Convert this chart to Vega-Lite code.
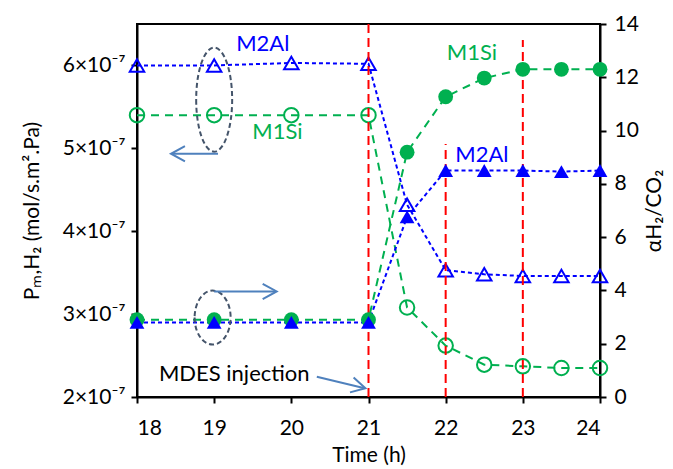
{
  "$schema": "https://vega.github.io/schema/vega-lite/v6.json",
  "autosize": {"type": "none"},
  "padding": {"left": 137, "top": 24, "right": 73, "bottom": 72},
  "width": 463,
  "height": 373,
  "background": "white",
  "config": {
    "font": "Lato",
    "view": {"stroke": "black", "strokeWidth": 2},
    "axis": {"grid": false, "domainColor": "black", "domainWidth": 2, "tickColor": "black", "tickWidth": 2, "tickSize": 6, "labelColor": "black", "titleColor": "black", "labelFontSize": 21, "titleFontSize": 21, "labelFont": "Lato", "titleFont": "Lato", "titleFontWeight": "normal"}
  },
  "datasets": {
    "perm": [
      {"time": 18, "membrane": "M2Al", "P": 6.00e-7},
      {"time": 19, "membrane": "M2Al", "P": 6.00e-7},
      {"time": 20, "membrane": "M2Al", "P": 6.03e-7},
      {"time": 21, "membrane": "M2Al", "P": 6.02e-7},
      {"time": 21.5, "membrane": "M2Al", "P": 4.32e-7},
      {"time": 22, "membrane": "M2Al", "P": 3.53e-7},
      {"time": 22.5, "membrane": "M2Al", "P": 3.48e-7},
      {"time": 23, "membrane": "M2Al", "P": 3.46e-7},
      {"time": 23.5, "membrane": "M2Al", "P": 3.46e-7},
      {"time": 24, "membrane": "M2Al", "P": 3.46e-7},
      {"time": 18, "membrane": "M1Si", "P": 5.40e-7},
      {"time": 19, "membrane": "M1Si", "P": 5.40e-7},
      {"time": 20, "membrane": "M1Si", "P": 5.40e-7},
      {"time": 21, "membrane": "M1Si", "P": 5.40e-7},
      {"time": 21.5, "membrane": "M1Si", "P": 3.08e-7},
      {"time": 22, "membrane": "M1Si", "P": 2.62e-7},
      {"time": 22.5, "membrane": "M1Si", "P": 2.39e-7},
      {"time": 23, "membrane": "M1Si", "P": 2.37e-7},
      {"time": 23.5, "membrane": "M1Si", "P": 2.35e-7},
      {"time": 24, "membrane": "M1Si", "P": 2.35e-7}
    ],
    "alpha": [
      {"time": 18, "membrane": "M1Si", "alpha": 2.9},
      {"time": 19, "membrane": "M1Si", "alpha": 2.9},
      {"time": 20, "membrane": "M1Si", "alpha": 2.9},
      {"time": 21, "membrane": "M1Si", "alpha": 2.9},
      {"time": 21.5, "membrane": "M1Si", "alpha": 9.19},
      {"time": 22, "membrane": "M1Si", "alpha": 11.27},
      {"time": 22.5, "membrane": "M1Si", "alpha": 11.97},
      {"time": 23, "membrane": "M1Si", "alpha": 12.3},
      {"time": 23.5, "membrane": "M1Si", "alpha": 12.3},
      {"time": 24, "membrane": "M1Si", "alpha": 12.3},
      {"time": 18, "membrane": "M2Al", "alpha": 2.8},
      {"time": 19, "membrane": "M2Al", "alpha": 2.8},
      {"time": 20, "membrane": "M2Al", "alpha": 2.8},
      {"time": 21, "membrane": "M2Al", "alpha": 2.8},
      {"time": 21.5, "membrane": "M2Al", "alpha": 6.76},
      {"time": 22, "membrane": "M2Al", "alpha": 8.5},
      {"time": 22.5, "membrane": "M2Al", "alpha": 8.5},
      {"time": 23, "membrane": "M2Al", "alpha": 8.5},
      {"time": 23.5, "membrane": "M2Al", "alpha": 8.46},
      {"time": 24, "membrane": "M2Al", "alpha": 8.5}
    ],
    "vlines": [
      {"time": 21, "a0": 0, "a1": 14},
      {"time": 22, "a0": 0, "a1": 9.5},
      {"time": 23, "a0": 0, "a1": 13.4}
    ],
    "labels": [
      {"time": 19.63, "alpha": 13.25, "text": "M2Al", "membrane": "M2Al"},
      {"time": 19.82, "alpha": 9.95, "text": "M1Si", "membrane": "M1Si"},
      {"time": 22.34, "alpha": 12.9, "text": "M1Si", "membrane": "M1Si"},
      {"time": 22.47, "alpha": 9.1, "text": "M2Al", "membrane": "M2Al"}
    ],
    "note": [
      {"time": 19.26, "alpha": 0.85, "text": "MDES injection"}
    ],
    "ellipseTop": [{"time": 19.0, "alpha": 11.16}],
    "ellipseBottom": [{"time": 18.98, "alpha": 2.98}],
    "arrows": [
      {"t0": 19.05, "t1": 18.45, "a0": 9.13, "a1": 9.13},
      {"t0": 19.0, "t1": 19.8, "a0": 3.96, "a1": 3.96},
      {"t0": 20.33, "t1": 20.95, "a0": 0.76, "a1": 0.33}
    ],
    "headLeft": [{"time": 18.44, "alpha": 9.13}],
    "headRight": [{"time": 19.81, "alpha": 3.96}],
    "headSlant": [{"time": 20.96, "alpha": 0.33}]
  },
  "encoding": {
    "x": {"field": "time", "type": "quantitative", "scale": {"domain": [18, 24], "nice": false}, "axis": {"values": [18, 19, 20, 21, 22, 23, 24], "title": "Time (h)", "labelPadding": 14, "titlePadding": 6, "tickSize": 6}}
  },
  "layer": [
    {
      "data": {"name": "perm"},
      "encoding": {
        "y": {"field": "P", "type": "quantitative", "scale": {"domain": [2e-7, 6.5e-7], "nice": false, "zero": false},
          "axis": {"orient": "left", "values": [2e-7, 3e-7, 4e-7, 5e-7, 6e-7], "labelExpr": "format(datum.value*1e7, 'd') + '×10⁻⁷'", "title": "Pₘ,H₂ (mol/s.m².Pa)", "titlePadding": 20, "labelPadding": 6}},
        "color": {"field": "membrane", "type": "nominal", "scale": {"domain": ["M1Si", "M2Al"], "range": ["#00B050", "#0000FF"]}, "legend": null}
      },
      "layer": [
        {"mark": {"type": "line", "strokeWidth": 2}, "encoding": {"strokeDash": {"field": "membrane", "type": "nominal", "scale": {"domain": ["M1Si", "M2Al"], "range": [[8, 6], [4, 3]]}, "legend": null}}},
        {"mark": {"type": "point", "filled": false, "strokeWidth": 2, "size": 210, "opacity": 1},
          "encoding": {"shape": {"field": "membrane", "type": "nominal", "scale": {"domain": ["M1Si", "M2Al"], "range": ["circle", "triangle-up"]}, "legend": null}}}
      ]
    },
    {
      "encoding": {
        "y": {"field": "alpha", "type": "quantitative", "scale": {"domain": [0, 14], "nice": false},
          "axis": {"orient": "right", "values": [0, 2, 4, 6, 8, 10, 12, 14], "title": "αH₂/CO₂", "titleAngle": -90, "titlePadding": 26, "labelPadding": 8}}
      },
      "layer": [
        {"data": {"name": "alpha"}, "mark": {"type": "line", "strokeWidth": 2},
          "encoding": {
            "color": {"field": "membrane", "type": "nominal", "scale": {"domain": ["M1Si", "M2Al"], "range": ["#00B050", "#0000FF"]}, "legend": null},
            "strokeDash": {"field": "membrane", "type": "nominal", "scale": {"domain": ["M1Si", "M2Al"], "range": [[8, 6], [4, 3]]}, "legend": null}}},
        {"data": {"name": "vlines"}, "mark": {"type": "rule", "color": "#FF0000", "strokeWidth": 2, "strokeDash": [9, 5]},
          "encoding": {"y": {"field": "a0", "type": "quantitative"}, "y2": {"field": "a1"}}},
        {"data": {"name": "alpha"}, "mark": {"type": "point", "filled": true, "size": 220, "opacity": 1},
          "encoding": {
            "color": {"field": "membrane", "type": "nominal", "scale": {"domain": ["M1Si", "M2Al"], "range": ["#00B050", "#0000FF"]}, "legend": null},
            "shape": {"field": "membrane", "type": "nominal", "scale": {"domain": ["M1Si", "M2Al"], "range": ["circle", "triangle-up"]}, "legend": null}}},
        {"data": {"name": "labels"}, "mark": {"type": "text", "fontSize": 22, "font": "Lato", "align": "center", "baseline": "middle"},
          "encoding": {"text": {"field": "text"},
            "color": {"field": "membrane", "type": "nominal", "scale": {"domain": ["M1Si", "M2Al"], "range": ["#00B050", "#0000FF"]}, "legend": null}}},
        {"data": {"name": "note"}, "mark": {"type": "text", "fontSize": 22, "font": "Lato", "align": "center", "baseline": "middle", "color": "black"},
          "encoding": {"text": {"field": "text"}}},
        {"data": {"name": "ellipseTop"}, "mark": {"type": "point", "shape": "M-0.346,0A0.346,1 0 1,0 0.346,0A0.346,1 0 1,0 -0.346,0Z", "size": 10816, "filled": false, "stroke": "#44546A", "strokeWidth": 2, "strokeDash": [5, 3], "opacity": 1}},
        {"data": {"name": "ellipseBottom"}, "mark": {"type": "point", "shape": "M-0.667,0A0.667,1 0 1,0 0.667,0A0.667,1 0 1,0 -0.667,0Z", "size": 2916, "filled": false, "stroke": "#44546A", "strokeWidth": 2, "strokeDash": [5, 3], "opacity": 1}},
        {"data": {"name": "arrows"}, "mark": {"type": "rule", "color": "#4F81BD", "strokeWidth": 2},
          "encoding": {"x": {"field": "t0", "type": "quantitative"}, "x2": {"field": "t1"}, "y": {"field": "a0", "type": "quantitative"}, "y2": {"field": "a1"}}},
        {"data": {"name": "headLeft"}, "mark": {"type": "point", "shape": "M1,-0.55L0,0L1,0.55", "size": 784, "filled": false, "stroke": "#4F81BD", "strokeWidth": 2, "opacity": 1}},
        {"data": {"name": "headRight"}, "mark": {"type": "point", "shape": "M-1,-0.55L0,0L-1,0.55", "size": 784, "filled": false, "stroke": "#4F81BD", "strokeWidth": 2, "opacity": 1}},
        {"data": {"name": "headSlant"}, "mark": {"type": "point", "shape": "M-1,-0.55L0,0L-1,0.55", "size": 784, "angle": 13.6, "filled": false, "stroke": "#4F81BD", "strokeWidth": 2, "opacity": 1}}
      ]
    }
  ],
  "resolve": {"scale": {"y": "independent"}}
}
